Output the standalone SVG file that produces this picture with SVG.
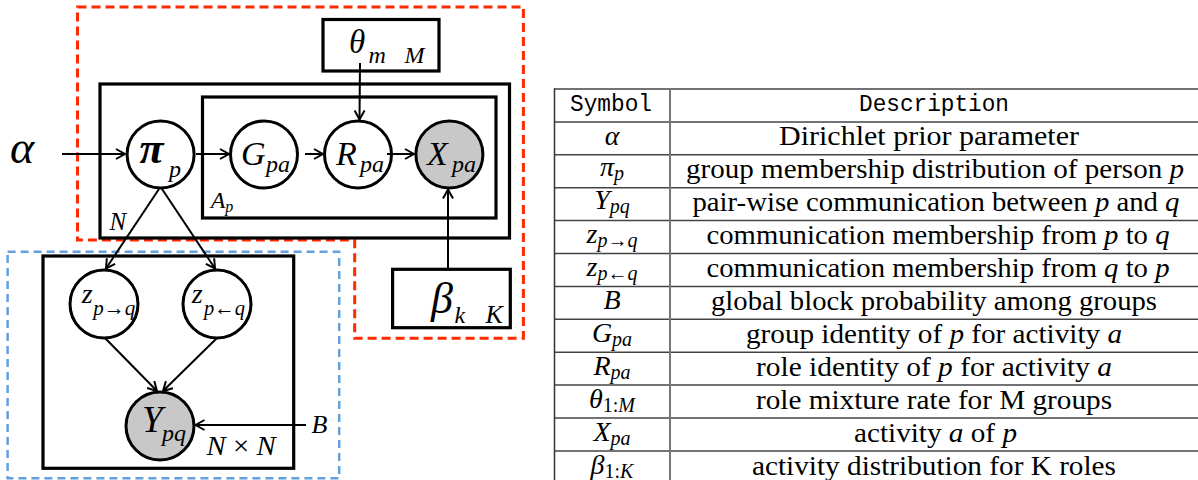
<svg xmlns="http://www.w3.org/2000/svg" width="1198" height="480" viewBox="0 0 1198 480">
<style>
.plate{fill:none;stroke:#000;stroke-width:3.2}
.node{fill:#fff;stroke:#000;stroke-width:3}
.obs{fill:#c8c8c8;stroke:#000;stroke-width:3}
.edge{fill:none;stroke:#000;stroke-width:2;marker-end:url(#arr)}
.gt{font-family:'Liberation Serif','Times New Roman','DejaVu Serif','Noto Serif',serif;font-style:italic;fill:#000}
.hdr{font-family:'Liberation Mono','Courier New',monospace;font-size:23px;text-anchor:middle;fill:#000}
.sym{font-family:'Liberation Serif','Times New Roman','DejaVu Serif','Noto Serif',serif;font-style:italic;font-size:28px;text-anchor:middle;fill:#000}
.sub{font-size:20px}
.up{font-style:normal}
.desc{font-family:'Liberation Serif','Times New Roman','DejaVu Serif','Noto Serif',serif;font-size:27px;text-anchor:middle;fill:#000}
.it{font-style:italic}
.hl{stroke:#444;stroke-width:1.5}
</style>
<defs>
<marker id="arr" markerWidth="12" markerHeight="12" refX="10" refY="6" orient="auto" markerUnits="userSpaceOnUse">
<path d="M1,1 L10,6 L1,11" fill="none" stroke="#000" stroke-width="2"/>
</marker>
</defs>

<g id="regions">
<path d="M77.5,7 H523.4 V338.3 H354.7 V240 H77.5 Z" fill="none" stroke="#ff2a00" stroke-width="3" stroke-dasharray="9 5"/>
<rect x="7.6" y="251.7" width="331.6" height="226.6" fill="none" stroke="#64a0dc" stroke-width="2.5" stroke-dasharray="8 5"/>
</g>

<g id="plate-N">
<rect class="plate" x="100" y="84" width="409.5" height="154"/>
<text class="gt" x="109.5" y="230" font-size="25">N</text>
</g>
<g id="plate-A">
<rect class="plate" x="202.5" y="97" width="293.5" height="121"/>
<text class="gt" x="210.7" y="208" font-size="24">A<tspan font-size="16" dy="4">p</tspan></text>
</g>
<g id="plate-NxN">
<rect class="plate" x="43" y="256" width="250.7" height="212.3"/>
<text class="gt" x="206.6" y="455" font-size="27" textLength="69" lengthAdjust="spacingAndGlyphs">N <tspan font-style="normal">×</tspan> N</text>
</g>

<g id="node-alpha">
<text class="gt" x="10" y="163" font-size="46">α</text>
</g>
<g id="node-theta">
<rect class="plate" x="323" y="19.5" width="116" height="51.5"/>
<text class="gt" x="349" y="53" font-size="33">θ</text>
<text class="gt" x="368.5" y="63" font-size="24">m</text>
<text class="gt" x="404.6" y="63" font-size="24">M</text>
</g>
<g id="node-beta">
<rect class="plate" x="392.6" y="269.3" width="117.7" height="58.4"/>
<text class="gt" x="431" y="313" font-size="44">β</text>
<text class="gt" x="454.5" y="323" font-size="24">k</text>
<text class="gt" x="485.5" y="323" font-size="26">K</text>
</g>
<g id="node-pi">
<circle class="node" cx="160.6" cy="154.5" r="33.5"/>
<text class="gt" x="139.5" y="163" font-size="44" font-weight="bold">π</text>
<text class="gt" x="169" y="177" font-size="24">p</text>
</g>
<g id="node-G">
<circle class="node" cx="264" cy="154.5" r="33.5"/>
<text class="gt" x="241" y="165" font-size="34">G</text>
<text class="gt" x="266" y="172" font-size="24">pa</text>
</g>
<g id="node-R">
<circle class="node" cx="358" cy="154.5" r="33.5"/>
<text class="gt" x="336" y="165" font-size="34">R</text>
<text class="gt" x="360" y="172" font-size="24">pa</text>
</g>
<g id="node-X">
<circle class="obs" cx="449.4" cy="154.5" r="33.5"/>
<text class="gt" x="427" y="165" font-size="34">X</text>
<text class="gt" x="452" y="172" font-size="24">pa</text>
</g>
<g id="node-z1">
<circle class="node" cx="104" cy="304" r="34"/>
<text class="gt" x="81.7" y="303" font-size="28">z</text>
<text class="gt" x="93.3" y="315" font-size="21" textLength="42" lengthAdjust="spacingAndGlyphs">p<tspan class="up">→</tspan>q</text>
</g>
<g id="node-z2">
<circle class="node" cx="217" cy="304" r="34"/>
<text class="gt" x="191.7" y="303" font-size="28">z</text>
<text class="gt" x="204" y="315" font-size="21" textLength="41" lengthAdjust="spacingAndGlyphs">p<tspan class="up">←</tspan>q</text>
</g>
<g id="node-Y">
<circle class="obs" cx="160" cy="426" r="34"/>
<text class="gt" x="142" y="432" font-size="37">Y</text>
<text class="gt" x="162" y="441" font-size="24">pq</text>
</g>
<g id="node-B">
<text class="gt" x="311.6" y="433" font-size="26">B</text>
</g>

<g id="connectors">
<path class="edge" d="M62,154 L125,154"/>
<path class="edge" d="M196,154 L229,154"/>
<path class="edge" d="M305,154 L323,154"/>
<path class="edge" d="M387,154 L414,154"/>
<path class="edge" d="M360,63 L359.5,119.5"/>
<path class="edge" d="M448,269.3 L448,189.5"/>
<path class="edge" d="M159,189 L106,268.5"/>
<path class="edge" d="M162,189 L215,268.5"/>
<path class="edge" d="M105,338 L157,391"/>
<path class="edge" d="M217,338 L163,391"/>
<path class="edge" d="M306,425 L195.5,425"/>
</g>

<g id="table">
<line class="hl" x1="554.5" y1="89" x2="1198" y2="89"/>
<line class="hl" x1="554.5" y1="121.9" x2="1198" y2="121.9"/>
<line class="hl" x1="554.5" y1="154.8" x2="1198" y2="154.8"/>
<line class="hl" x1="554.5" y1="187.7" x2="1198" y2="187.7"/>
<line class="hl" x1="554.5" y1="220.6" x2="1198" y2="220.6"/>
<line class="hl" x1="554.5" y1="253.5" x2="1198" y2="253.5"/>
<line class="hl" x1="554.5" y1="286.4" x2="1198" y2="286.4"/>
<line class="hl" x1="554.5" y1="319.3" x2="1198" y2="319.3"/>
<line class="hl" x1="554.5" y1="352.2" x2="1198" y2="352.2"/>
<line class="hl" x1="554.5" y1="385.1" x2="1198" y2="385.1"/>
<line class="hl" x1="554.5" y1="418" x2="1198" y2="418"/>
<line class="hl" x1="554.5" y1="450.9" x2="1198" y2="450.9"/>
<line x1="554.5" y1="88.3" x2="554.5" y2="480" stroke="#333" stroke-width="1.5"/>
<line x1="670" y1="88.3" x2="670" y2="480" stroke="#777" stroke-width="2"/>

<text class="hdr" x="611" y="111" textLength="82" lengthAdjust="spacingAndGlyphs">Symbol</text>
<text class="hdr" x="934" y="111" textLength="150" lengthAdjust="spacingAndGlyphs">Description</text>

<text class="sym" x="612" y="144.5">α</text>
<text class="sym" x="612" y="176">π<tspan class="sub" dy="4">p</tspan></text>
<text class="sym" x="612" y="209">Y<tspan class="sub" dy="4">pq</tspan></text>
<text class="sym" x="612" y="242.5">z<tspan class="sub" dy="4">p<tspan class="up">→</tspan>q</tspan></text>
<text class="sym" x="612" y="275.5">z<tspan class="sub" dy="4">p<tspan class="up">←</tspan>q</tspan></text>
<text class="sym" x="612" y="309">B</text>
<text class="sym" x="612" y="341.5">G<tspan class="sub" dy="4">pa</tspan></text>
<text class="sym" x="612" y="374.5">R<tspan class="sub" dy="4">pa</tspan></text>
<text class="sym" x="612" y="407.5">θ<tspan class="sub" dy="4"><tspan class="up">1:</tspan>M</tspan></text>
<text class="sym" x="612" y="440.5">X<tspan class="sub" dy="4">pa</tspan></text>
<text class="sym" x="612" y="473.5">β<tspan class="sub" dy="4"><tspan class="up">1:</tspan>K</tspan></text>

<text class="desc" x="929" y="145" textLength="300" lengthAdjust="spacingAndGlyphs">Dirichlet prior parameter</text>
<text class="desc" x="935" y="178" textLength="498" lengthAdjust="spacingAndGlyphs">group membership distribution of person <tspan class="it">p</tspan></text>
<text class="desc" x="936" y="211" textLength="487" lengthAdjust="spacingAndGlyphs">pair-wise communication between <tspan class="it">p</tspan> and <tspan class="it">q</tspan></text>
<text class="desc" x="938" y="244" textLength="463" lengthAdjust="spacingAndGlyphs">communication membership from <tspan class="it">p</tspan> to <tspan class="it">q</tspan></text>
<text class="desc" x="938" y="277" textLength="463" lengthAdjust="spacingAndGlyphs">communication membership from <tspan class="it">q</tspan> to <tspan class="it">p</tspan></text>
<text class="desc" x="934" y="309.5" textLength="446" lengthAdjust="spacingAndGlyphs">global block probability among groups</text>
<text class="desc" x="934" y="342.5" textLength="376" lengthAdjust="spacingAndGlyphs">group identity of <tspan class="it">p</tspan> for activity <tspan class="it">a</tspan></text>
<text class="desc" x="934" y="375.5" textLength="356" lengthAdjust="spacingAndGlyphs">role identity of <tspan class="it">p</tspan> for activity <tspan class="it">a</tspan></text>
<text class="desc" x="934" y="408.5" textLength="356" lengthAdjust="spacingAndGlyphs">role mixture rate for M groups</text>
<text class="desc" x="935.5" y="441.5" textLength="163" lengthAdjust="spacingAndGlyphs">activity <tspan class="it">a</tspan> of <tspan class="it">p</tspan></text>
<text class="desc" x="934" y="474.5" textLength="364" lengthAdjust="spacingAndGlyphs">activity distribution for K roles</text>
</g>
</svg>
